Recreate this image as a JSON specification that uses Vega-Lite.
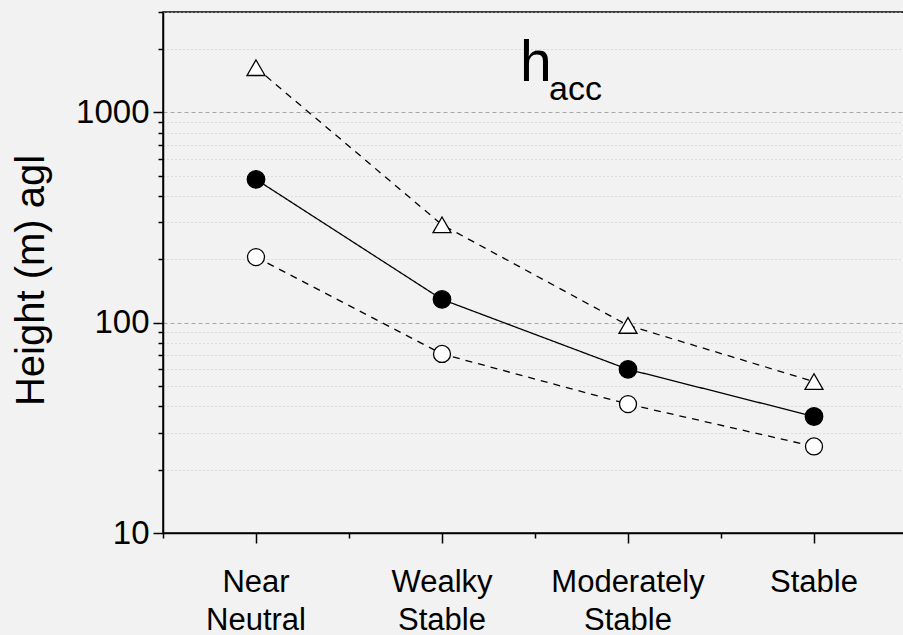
{
  "$schema": "https://vega.github.io/schema/vega-lite/v6.json",
  "width": 744,
  "height": 521,
  "autosize": {"type": "none"},
  "padding": {"left": 163, "top": 12, "right": 0, "bottom": 102},
  "background": "#f2f2f2",
  "config": {
    "font": "Liberation Sans",
    "view": {"fill": "#f2f2f2", "stroke": "black", "strokeWidth": 1.5},
    "axis": {
      "domainColor": "black",
      "domainWidth": 1.5,
      "tickColor": "black",
      "tickWidth": 1.5,
      "labelColor": "black",
      "titleColor": "black",
      "labelFont": "Liberation Sans",
      "titleFont": "Liberation Sans"
    }
  },
  "data": {
    "values": [
      {"stability": "Near Neutral", "series": "upper", "height": 1630},
      {"stability": "Near Neutral", "series": "median", "height": 480},
      {"stability": "Near Neutral", "series": "lower", "height": 205},
      {"stability": "Wealky Stable", "series": "upper", "height": 292},
      {"stability": "Wealky Stable", "series": "median", "height": 129},
      {"stability": "Wealky Stable", "series": "lower", "height": 71},
      {"stability": "Moderately Stable", "series": "upper", "height": 97},
      {"stability": "Moderately Stable", "series": "median", "height": 60},
      {"stability": "Moderately Stable", "series": "lower", "height": 41},
      {"stability": "Stable", "series": "upper", "height": 52.5},
      {"stability": "Stable", "series": "median", "height": 35.8},
      {"stability": "Stable", "series": "lower", "height": 25.8}
    ]
  },
  "layer": [
    {
      "mark": {"type": "line", "color": "black", "strokeWidth": 1.3},
      "encoding": {
        "x": {
          "field": "stability",
          "type": "nominal",
          "sort": ["Near Neutral", "Wealky Stable", "Moderately Stable", "Stable"],
          "scale": {"type": "band", "paddingInner": 0, "paddingOuter": 0},
          "axis": {
            "orient": "bottom",
            "title": null,
            "bandPosition": 0.5,
            "tickSize": 10,
            "labelAngle": 0,
            "labelFontSize": 31,
            "labelLineHeight": 38,
            "labelPadding": 24,
            "labelBaseline": "top",
            "labelExpr": "split(datum.label, ' ')",
            "grid": false
          }
        },
        "y": {
          "field": "height",
          "type": "quantitative",
          "scale": {"type": "log", "domain": [10, 3000], "nice": false},
          "axis": {
            "orient": "left",
            "values": [10, 100, 1000],
            "format": "d",
            "tickSize": 10,
            "labelPadding": 4,
            "labelFontSize": 33,
            "grid": true,
            "gridColor": "#a8a8a8",
            "gridDash": [4, 3],
            "gridWidth": 1,
            "title": "Height (m) agl",
            "titleFontSize": 40,
            "titleFontWeight": "normal",
            "titleAngle": 270,
            "titleBaseline": "alphabetic",
            "titleAlign": "center",
            "titleX": -120,
            "titleY": 268
          }
        },
        "detail": {"field": "series"},
        "strokeDash": {
          "field": "series",
          "type": "nominal",
          "scale": {"domain": ["upper", "median", "lower"], "range": [[7, 6], [1, 0], [7, 6]]},
          "legend": null
        }
      }
    },
    {
      "mark": {"type": "point", "filled": true, "stroke": "black", "strokeWidth": 1.3, "opacity": 1},
      "encoding": {
        "x": {
          "field": "stability",
          "type": "nominal",
          "sort": ["Near Neutral", "Wealky Stable", "Moderately Stable", "Stable"],
          "axis": {
            "orient": "bottom",
            "title": null,
            "bandPosition": 0,
            "tickSize": 5,
            "labels": false,
            "domain": false,
            "grid": false
          }
        },
        "y": {
          "field": "height",
          "type": "quantitative",
          "axis": {
            "orient": "left",
            "values": [20, 30, 40, 50, 60, 70, 80, 90, 200, 300, 400, 500, 600, 700, 800, 900, 2000, 3000],
            "tickSize": 5,
            "labels": false,
            "domain": false,
            "grid": true,
            "gridColor": "#c4c4c4",
            "gridDash": [1, 3],
            "gridWidth": 1,
            "title": null
          }
        },
        "shape": {
          "field": "series",
          "type": "nominal",
          "scale": {"domain": ["upper", "median", "lower"], "range": ["triangle-up", "circle", "circle"]},
          "legend": null
        },
        "fill": {
          "field": "series",
          "type": "nominal",
          "scale": {"domain": ["upper", "median", "lower"], "range": ["white", "black", "white"]},
          "legend": null
        },
        "size": {
          "field": "series",
          "type": "nominal",
          "scale": {"domain": ["upper", "median", "lower"], "range": [324, 289, 289]},
          "legend": null
        }
      }
    },
    {
      "data": {"values": [{"label": "h"}]},
      "mark": {"type": "text", "align": "left", "baseline": "alphabetic", "fontSize": 57, "dx": 78, "dy": -31, "color": "black"},
      "encoding": {
        "x": {"datum": "Wealky Stable", "type": "nominal", "axis": null},
        "y": {"datum": 1000, "type": "quantitative", "axis": null},
        "text": {"field": "label"}
      }
    },
    {
      "data": {"values": [{"label": "acc"}]},
      "mark": {"type": "text", "align": "left", "baseline": "alphabetic", "fontSize": 34, "dx": 107, "dy": -12, "color": "black"},
      "encoding": {
        "x": {"datum": "Wealky Stable", "type": "nominal", "axis": null},
        "y": {"datum": 1000, "type": "quantitative", "axis": null},
        "text": {"field": "label"}
      }
    }
  ],
  "resolve": {"axis": {"x": "independent", "y": "independent"}}
}
